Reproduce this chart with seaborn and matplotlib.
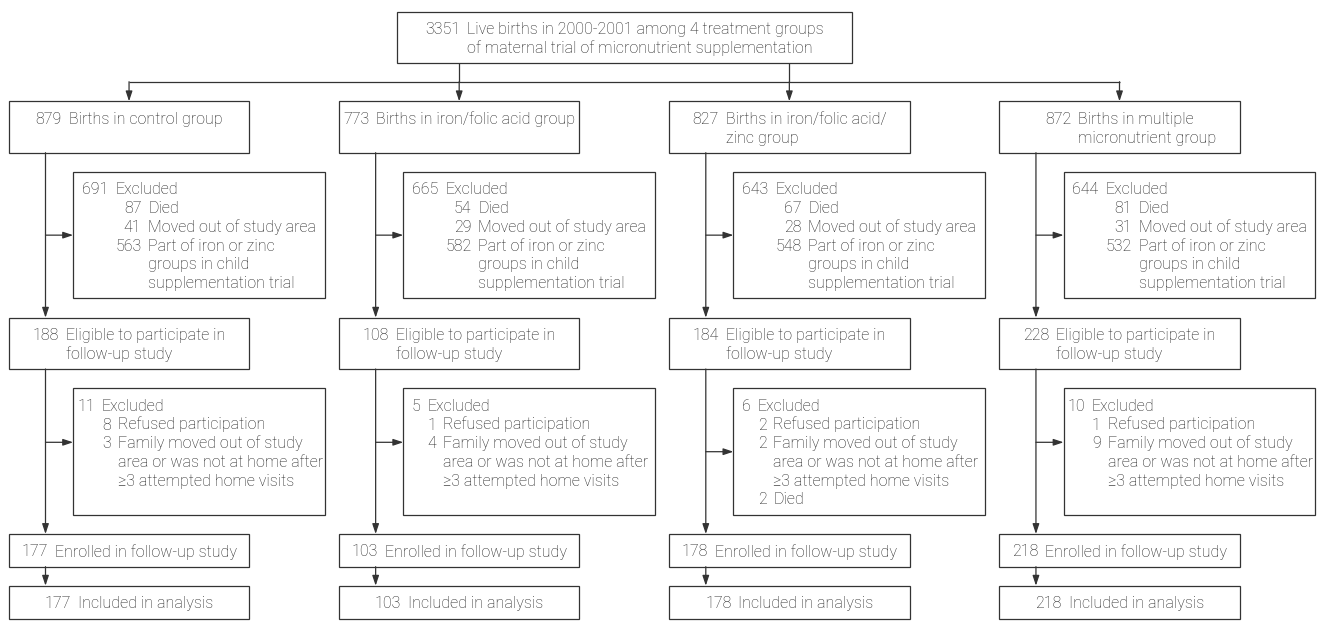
import matplotlib
matplotlib.use("Agg")
import matplotlib.pyplot as plt
from matplotlib.patches import Rectangle
import seaborn as sns

# ---- flow chart content ----
top_n = "3351"
top_lines = ["Live births in 2000-2001 among 4 treatment groups",
             "of maternal trial of micronutrient supplementation"]

group_n = [879, 773, 827, 872]
group_lines = [["Births in control group"],
               ["Births in iron/folic acid group"],
               ["Births in iron/folic acid/", "zinc group"],
               ["Births in multiple", "micronutrient group"]]

excl1_n = [691, 665, 643, 644]
died1 = [87, 54, 67, 81]
moved1 = [41, 29, 28, 31]
part1 = [563, 582, 548, 532]

eligible_n = [188, 108, 184, 228]
eligible_lines = ["Eligible to participate in", "follow-up study"]

excl2_n = [11, 5, 6, 10]
refused2 = [8, 1, 2, 1]
family2 = [3, 4, 2, 9]
died2 = [None, None, 2, None]

enrolled_n = [177, 103, 178, 218]
included_n = [177, 103, 178, 218]

sns.set_theme(style="white")
plt.rcParams["font.family"] = ["Roboto", "DejaVu Sans"]

W, H = 1320, 628
fig = plt.figure(figsize=(13.2, 6.28), dpi=100)
ax = fig.add_axes([0, 0, 1, 1])
ax.set_xlim(0, W)
ax.set_ylim(H, 0)
ax.axis("off")
rend = fig.canvas.get_renderer()

INK = "#333333"
TXT = "#1e1e1e"
FS = 11.5
WT = "light"
LH = 18.7
GAP = 7.0
BASE = 22.5
LW = 0.9


def tw(s):
    t = ax.text(0, 0, s, fontsize=FS, fontweight=WT)
    w = t.get_window_extent(rend).width
    t.remove()
    return w


def put(x, y, s, ha="left"):
    ax.text(x, y, s, fontsize=FS, fontweight=WT, color=TXT, ha=ha, va="baseline")


def box(x0, y0, x1, y1):
    ax.add_patch(Rectangle((x0, y0), x1 - x0, y1 - y0, fill=True, fc="white",
                           ec=INK, lw=LW, zorder=2))


def arrow(x0, y0, x1, y1):
    ax.annotate("", xy=(x1, y1), xytext=(x0, y0),
                arrowprops=dict(arrowstyle="-|>,head_length=0.6,head_width=0.2",
                                color=INK, lw=LW, shrinkA=0, shrinkB=0,
                                mutation_scale=10), zorder=3)


def line(xs, ys):
    ax.plot(xs, ys, color=INK, lw=LW, solid_capstyle="butt", zorder=1)


def centered_block(cx, top, num, lines):
    wn = tw(num)
    start = cx - (wn + GAP + tw(lines[0])) / 2
    put(start, top + BASE, num)
    for k, s in enumerate(lines):
        put(start + wn + GAP, top + BASE + k * LH, s)


def excl_block(x0, top, num, items, pad):
    x = x0 + pad
    put(x, top + BASE, str(num))
    xt = x + tw(str(num)) + GAP
    put(xt, top + BASE, "Excluded")
    xr = xt + max(tw(str(n)) for n, _ in items)
    row = 1
    for n, lines in items:
        put(xr, top + BASE + row * LH, str(n), ha="right")
        for k, s in enumerate(lines):
            put(xr + GAP, top + BASE + (row + k) * LH, s)
        row += len(lines)


# vertical layout (pixels)
TOP = (11.7, 62.7)
HLINE = 81.7
GROUP = (101.3, 152.7)
EX1 = (172.0, 298.3)
ELIG = (317.7, 369.0)
EX2 = (388.3, 514.7)
ENR = (534.0, 566.7)
INC = (585.7, 619.0)

COL0, COLSTEP, BW = 8.8, 330.15, 240.5
EXOFF, EXW = 64.3, 251.5
SPINE = 36.7
pad2 = [4.0, 8.6, 8.5, 3.5]
arrow2_y = [442.3, 442.3, 451.7, 442.3]

# top box
tx0, tx1 = 396.5, 852.3
box(tx0, TOP[0], tx1, TOP[1])
centered_block((tx0 + tx1) / 2, TOP[0], top_n, top_lines)

centers = [COL0 + i * COLSTEP + BW / 2 for i in range(4)]
line([centers[0], centers[3]], [HLINE, HLINE])
for i in (1, 2):
    line([centers[i], centers[i]], [TOP[1], HLINE])
for c in centers:
    arrow(c, HLINE, c, GROUP[0])

for i in range(4):
    gx = COL0 + i * COLSTEP
    cx = gx + BW / 2
    sx = gx + SPINE
    ex = gx + EXOFF

    box(gx, GROUP[0], gx + BW, GROUP[1])
    centered_block(cx, GROUP[0], str(group_n[i]), group_lines[i])

    arrow(sx, GROUP[1], sx, ELIG[0])
    arrow(sx, (EX1[0] + EX1[1]) / 2, ex, (EX1[0] + EX1[1]) / 2)
    box(ex, EX1[0], ex + EXW, EX1[1])
    excl_block(ex, EX1[0], excl1_n[i],
               [(died1[i], ["Died"]),
                (moved1[i], ["Moved out of study area"]),
                (part1[i], ["Part of iron or zinc", "groups in child",
                            "supplementation trial"])], 8.6)

    box(gx, ELIG[0], gx + BW, ELIG[1])
    centered_block(cx, ELIG[0], str(eligible_n[i]), eligible_lines)

    arrow(sx, ELIG[1], sx, ENR[0])
    arrow(sx, arrow2_y[i], ex, arrow2_y[i])
    box(ex, EX2[0], ex + EXW, EX2[1])
    items = [(refused2[i], ["Refused participation"]),
             (family2[i], ["Family moved out of study",
                           "area or was not at home after",
                           "\u22653 attempted home visits"])]
    if died2[i] is not None:
        items.append((died2[i], ["Died"]))
    excl_block(ex, EX2[0], excl2_n[i], items, pad2[i])

    box(gx, ENR[0], gx + BW, ENR[1])
    centered_block(cx, ENR[0], str(enrolled_n[i]), ["Enrolled in follow-up study"])

    arrow(sx, ENR[1], sx, INC[0])
    box(gx, INC[0], gx + BW, INC[1])
    centered_block(cx, INC[0], str(included_n[i]), ["Included in analysis"])

fig.savefig("out.png", dpi=100, facecolor="white")
